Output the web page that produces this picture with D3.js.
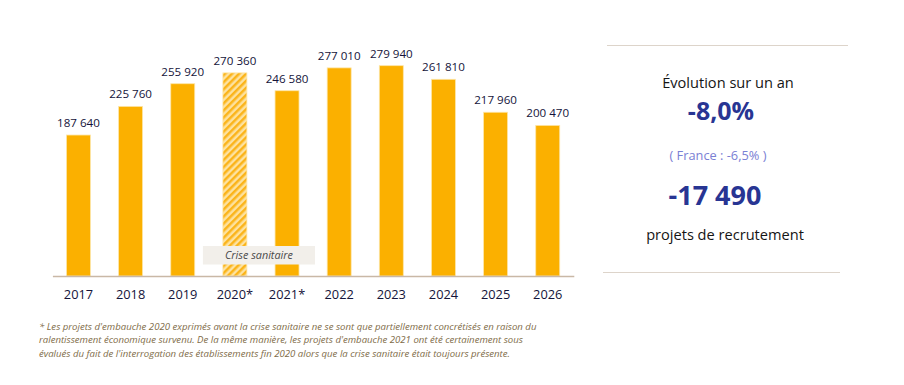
<!DOCTYPE html>
<html>
<head>
<meta charset="utf-8">
<script src="https://cdn.jsdelivr.net/npm/d3@7"></script>
<style>
  body { margin: 0; background: #fff; }
  svg { display: block; font-family: "Open Sans", sans-serif; }
</style>
</head>
<body>
<svg id="chart"></svg>
<script>
let years = ["2017", "2018", "2019", "2020*", "2021*", "2022", "2023", "2024", "2025", "2026"];
let values = [187640, 225760, 255920, 270360, 246580, 277010, 279940, 261810, 217960, 200470];
let hatched = ["2020*"];

let panelTexts = ["Évolution sur un an", "-8,0%", "( France : -6,5% )", "-17 490", "projets de recrutement"];
let footnote = [
  "* Les projets d'embauche 2020 exprimés avant la crise sanitaire ne se sont que partiellement concrétisés en raison du",
  "ralentissement économique survenu. De la même manière, les projets d'embauche 2021 ont été certainement sous",
  "évalués du fait de l'interrogation des établissements fin 2020 alors que la crise sanitaire était toujours présente."
];

let width = 904;
let height = 385;
let baseY = 276;

let svg = d3.select("#chart").attr("width", width).attr("height", height);

let fmt = (v) => d3.format(",")(v).replace(/,/g, " ");

// hatch pattern for 2020
let defs = svg.append("defs");
let pat = defs.append("pattern")
  .attr("id", "hatch")
  .attr("patternUnits", "userSpaceOnUse")
  .attr("width", 5)
  .attr("height", 5)
  .attr("patternTransform", "rotate(45)");
pat.append("rect").attr("width", 5).attr("height", 5).attr("fill", "#fde2a0");
pat.append("rect").attr("width", 2.5).attr("height", 5).attr("fill", "#fbb41a");

let xScale = d3.scaleBand()
  .domain(years)
  .range([52.4, 573.8])
  .paddingInner(0.54)
  .paddingOuter(0.27);

let yScale = d3.scaleLinear()
  .domain([0, 300000])
  .range([baseY, 50.6]);

// bars
svg.selectAll("rect.bar")
  .data(years)
  .enter()
  .append("rect")
  .attr("class", "bar")
  .attr("x", (d) => xScale(d))
  .attr("y", (d, i) => yScale(values[i]))
  .attr("width", xScale.bandwidth())
  .attr("height", (d, i) => baseY - yScale(values[i]))
  .attr("fill", (d) => hatched.includes(d) ? "url(#hatch)" : "#fbb000")
  .attr("stroke", "#fde6a8")
  .attr("stroke-width", 0.8);

// crise sanitaire box, spans between 2020 and 2021 bars
let criseX0 = xScale("2020*") - 20;
let criseX1 = xScale("2021*") + xScale.bandwidth() + 16;
svg.append("rect")
  .attr("x", criseX0)
  .attr("y", 246)
  .attr("width", criseX1 - criseX0)
  .attr("height", 18.5)
  .attr("fill", "#f2efea");
svg.append("text")
  .attr("x", (criseX0 + criseX1) / 2)
  .attr("y", 259)
  .attr("text-anchor", "middle")
  .attr("font-size", 10.8)
  .attr("font-style", "italic")
  .attr("fill", "#4a4a4a")
  .text("Crise sanitaire");

// value labels
svg.selectAll("text.val")
  .data(years)
  .enter()
  .append("text")
  .attr("class", "val")
  .attr("x", (d) => xScale(d) + xScale.bandwidth() / 2)
  .attr("y", (d, i) => yScale(values[i]) - 8)
  .attr("text-anchor", "middle")
  .attr("font-size", 11.6)
  .attr("fill", "#14143a")
  .text((d, i) => fmt(values[i]));

// x axis
let xAxis = d3.axisBottom(xScale).tickSize(0).tickPadding(14);
let gx = svg.append("g")
  .attr("transform", "translate(0," + baseY + ")")
  .call(xAxis);
gx.select(".domain").attr("stroke", "#c9b8a6").attr("stroke-width", 1.5);
gx.selectAll("text")
  .attr("font-size", 12.8)
  .attr("font-family", "Open Sans, sans-serif")
  .attr("fill", "#14143a");

// right panel
svg.append("line").attr("x1", 607).attr("x2", 848).attr("y1", 45.5).attr("y2", 45.5)
  .attr("stroke", "#ddd4ca").attr("stroke-width", 1.2);
svg.append("line").attr("x1", 603).attr("x2", 840).attr("y1", 272.5).attr("y2", 272.5)
  .attr("stroke", "#ddd4ca").attr("stroke-width", 1.2);

let panel = [
  { x: 728, y: 88, size: 14.6, weight: "normal", color: "#151515" },
  { x: 721, y: 120, size: 25, weight: "bold", color: "#283593" },
  { x: 718, y: 159.5, size: 12.8, weight: "normal", color: "#7a80d4" },
  { x: 715, y: 205, size: 27, weight: "bold", color: "#283593" },
  { x: 725, y: 239.5, size: 14.6, weight: "normal", color: "#151515" }
];
svg.selectAll("text.panel")
  .data(panelTexts)
  .enter()
  .append("text")
  .attr("class", "panel")
  .attr("x", (d, i) => panel[i].x)
  .attr("y", (d, i) => panel[i].y)
  .attr("text-anchor", "middle")
  .attr("font-size", (d, i) => panel[i].size)
  .attr("font-weight", (d, i) => panel[i].weight)
  .attr("fill", (d, i) => panel[i].color)
  .text((d) => d);

// footnote
svg.selectAll("text.note")
  .data(footnote)
  .enter()
  .append("text")
  .attr("class", "note")
  .attr("x", 39)
  .attr("y", (d, i) => 330 + i * 13.3)
  .attr("font-size", 9.6)
  .attr("font-style", "italic")
  .attr("fill", "#806c48")
  .text((d) => d);
</script>
</body>
</html>
